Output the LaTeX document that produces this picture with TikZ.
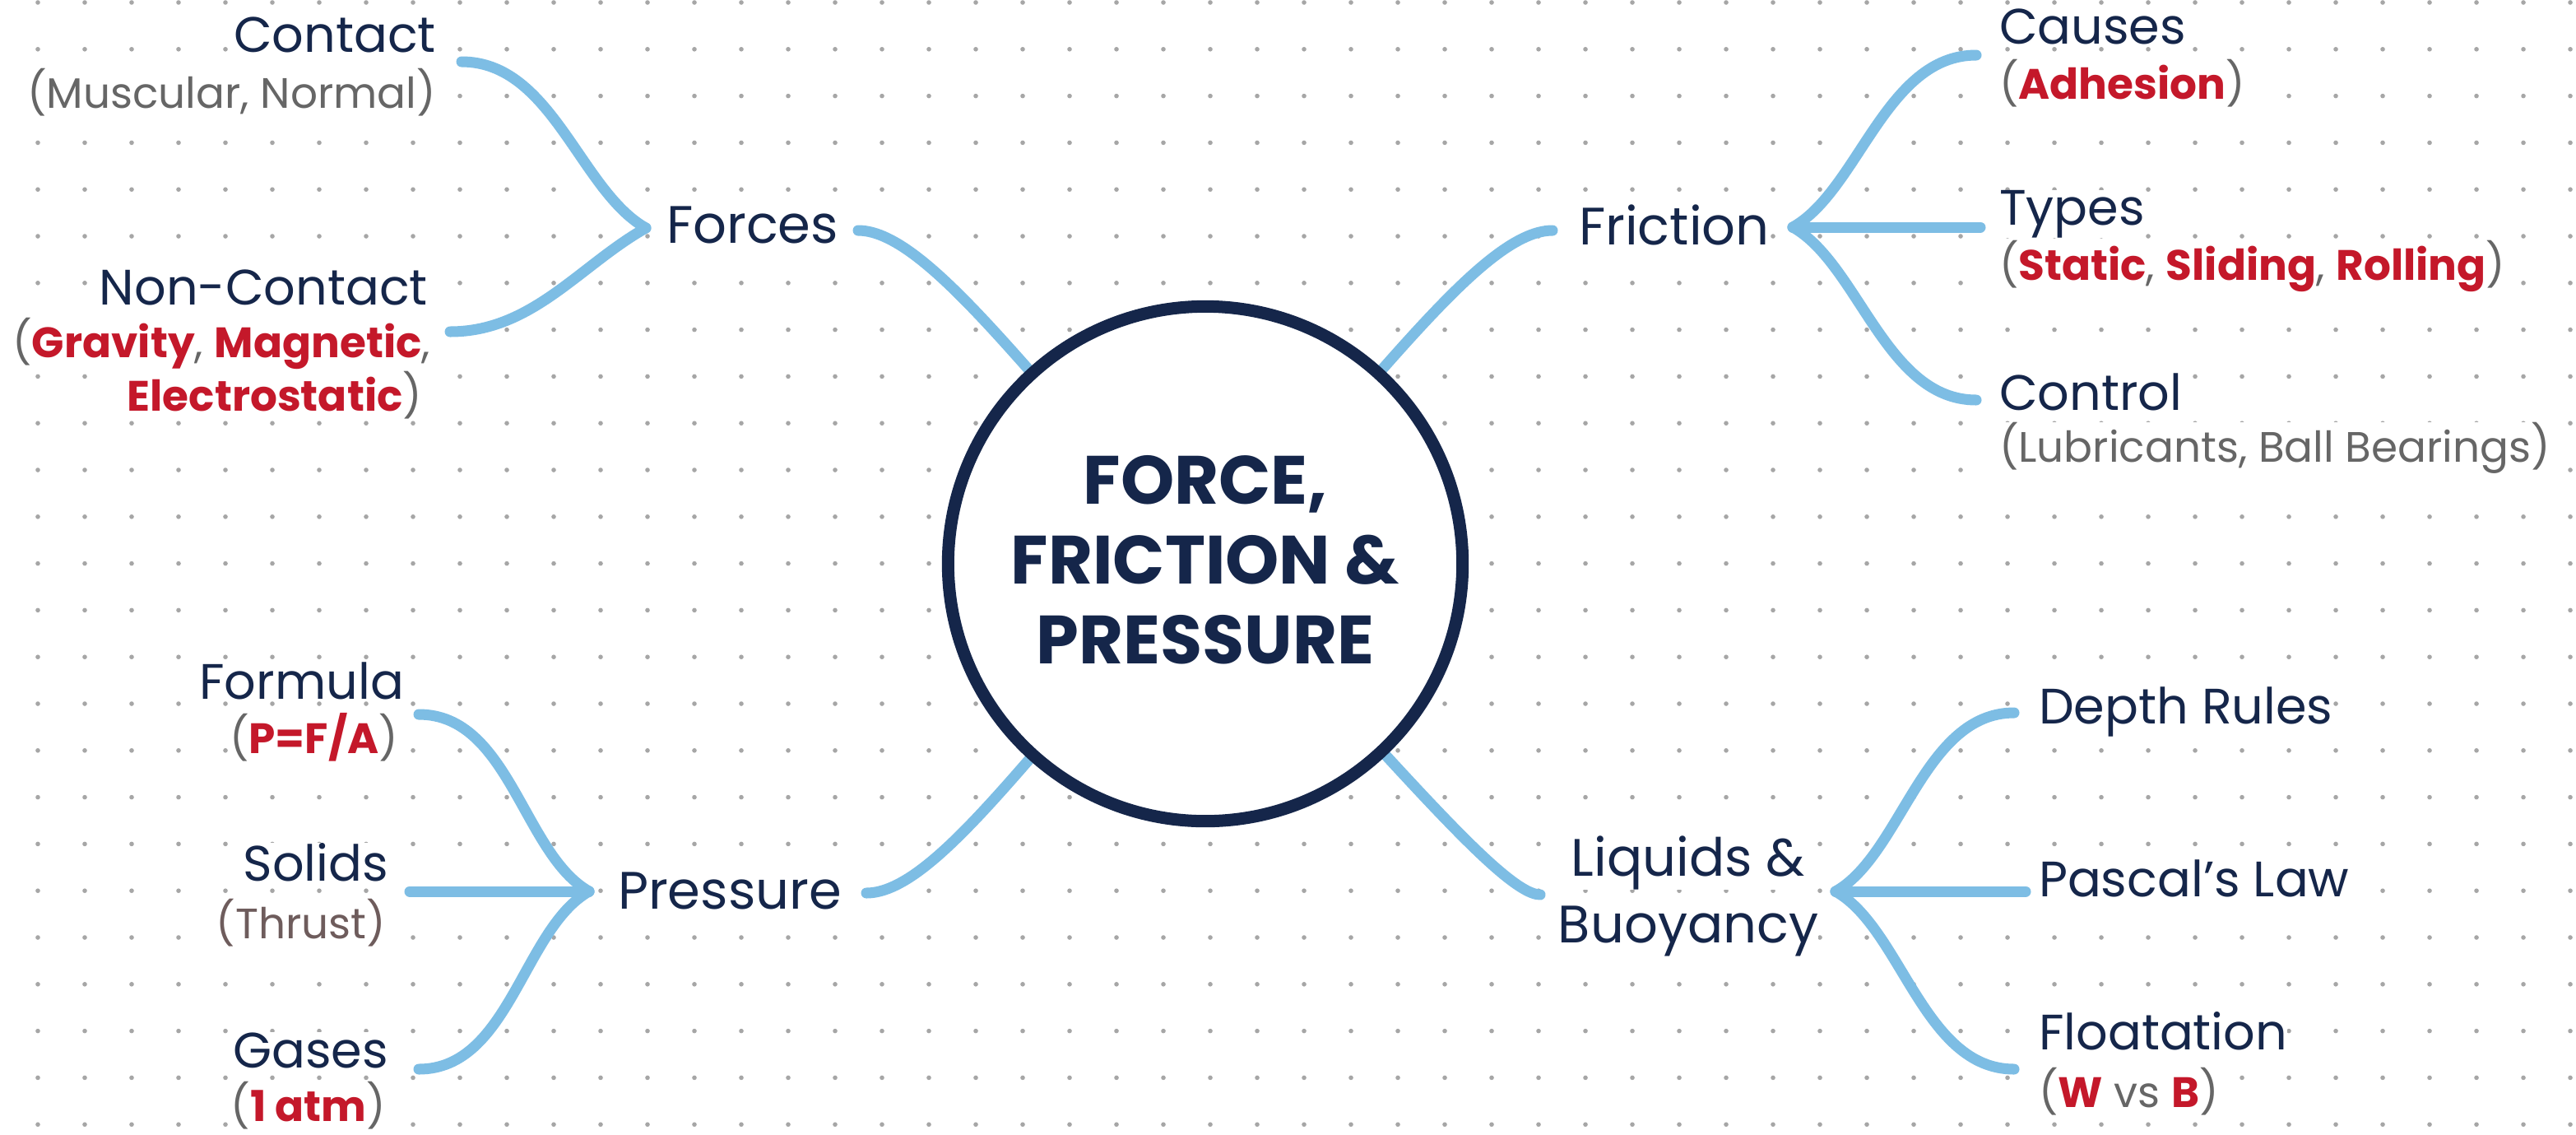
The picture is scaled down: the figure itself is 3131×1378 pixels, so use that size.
\documentclass[tikz,border=0pt]{standalone}
\usepackage{fontspec}
\setmainfont{Poppins}
\definecolor{navy}{HTML}{15264A}
\definecolor{sky}{HTML}{7DBDE4}
\definecolor{dotc}{HTML}{A6A6A6}
\definecolor{redc}{HTML}{C4182A}
\definecolor{grayc}{HTML}{666666}
\definecolor{brownc}{HTML}{6E5C5C}
\newcommand{\hlred}[1]{{\color{redc}\bfseries #1}}
\pgfdeclarelayer{bg}
\pgfsetlayers{bg,main}
\begin{document}
\begin{tikzpicture}[x=0.01cm,y=-0.01cm,
  conn/.style={draw=sky,line width=0.13cm,line cap=round},
  txt/.style={inner sep=0pt,outer sep=0pt,fill=white},
  mainlbl/.style={txt,font=\fontsize{18.2}{22}\selectfont,text=navy},
  leaflbl/.style={txt,font=\fontsize{17.2}{20}\selectfont,text=navy},
  paren/.style={txt,font=\fontsize{14.7}{17}\selectfont,text=grayc},
  hubcircle/.style={circle,draw=navy,line width=0.15cm,fill=white,minimum size=6.25cm,inner sep=0pt},
  titletxt/.style={align=center,font=\fontsize{23.6}{27.6}\selectfont\bfseries,text=navy,inner sep=0pt}]
\useasboundingbox (0,0) rectangle (3131,1378);

% central hub
\node[hubcircle] (core) at (1465,685) {};
\node[titletxt] (title) at (1465,680) {FORCE,\\FRICTION \&\\PRESSURE};

% ---------- Forces ----------
\node[mainlbl,anchor=base west] (forces) at (810,295) {Forces};
\node[leaflbl,anchor=base east] (contact) at (530,63) {Contact};
\node[paren,anchor=base east] (contactp) at (530,131) {(Muscular, Normal)};
\node[leaflbl,anchor=base east] (noncontact) at (520,370) {Non-Contact};
\node[paren,anchor=base east] (noncontactp) at (523,434) {(\hlred{Gravity}, \hlred{Magnetic},};
\node[paren,anchor=base east] (noncontactq) at (513,499) {\hlred{Electrostatic})};

% ---------- Friction ----------
\node[mainlbl,anchor=base west] (friction) at (1919,297) {Friction};
\node[leaflbl,anchor=base west] (causes) at (2430,53) {Causes};
\node[paren,anchor=base west] (causesp) at (2430,120) {(\hlred{Adhesion})};
\node[leaflbl,anchor=base west] (types) at (2430,273) {Types};
\node[paren,anchor=base west] (typesp) at (2430,340) {(\hlred{Static}, \hlred{Sliding}, \hlred{Rolling})};
\node[leaflbl,anchor=base west] (control) at (2430,498) {Control};
\node[paren,anchor=base west] (controlp) at (2430,561) {(Lubricants, Ball Bearings)};

% ---------- Pressure ----------
\node[mainlbl,anchor=base west] (pressure) at (751,1104) {Pressure};
\node[leaflbl,anchor=base east] (formula) at (491,849) {Formula};
\node[paren,anchor=base east] (formulap) at (484,915) {(\hlred{P=F/A})};
\node[leaflbl,anchor=base east] (solids) at (472,1070) {Solids};
\node[paren,anchor=base east,text=brownc] (solidsp) at (469,1140) {(Thrust)};
\node[leaflbl,anchor=base east] (gases) at (472,1297) {Gases};
\node[paren,anchor=base east] (gasesp) at (469,1362) {(\hlred{1 atm})};

% ---------- Liquids & Buoyancy ----------
\node[mainlbl,anchor=base] (liquids) at (2052,1064) {Liquids \&};
\node[mainlbl,anchor=base] (buoyancy) at (2052,1145) {Buoyancy};
\node[leaflbl,anchor=base west] (depth) at (2478,879) {Depth Rules};
\node[leaflbl,anchor=base west] (pascal) at (2478,1089) {Pascal’s Law};
\node[leaflbl,anchor=base west] (floatation) at (2478,1275) {Floatation};
\node[paren,anchor=base west] (floatationp) at (2478,1345) {(\hlred{W} vs \hlred{B})};

% connector end points
\coordinate (cContact) at (561,75);
\coordinate (cNonContact) at (547,403);
\coordinate (jForces) at (785,277);
\coordinate (eForces) at (1043,280);
\coordinate (jFriction) at (2179,276);
\coordinate (cCauses) at (2402,67);
\coordinate (cTypes) at (2407,276);
\coordinate (cControl) at (2402,486);
\coordinate (eFriction) at (1887,280);
\coordinate (jPressure) at (716,1083);
\coordinate (cFormula) at (509,868);
\coordinate (cSolids) at (498,1083);
\coordinate (cGases) at (509,1299);
\coordinate (ePressure) at (1053,1085);
\coordinate (jLiquids) at (2231,1083);
\coordinate (cDepth) at (2448,866);
\coordinate (cPascal) at (2462,1083);
\coordinate (cFloat) at (2448,1299);
\coordinate (eLiquids) at (1872,1087);

\begin{pgfonlayer}{bg}
  \fill[white] (0,0) rectangle (3131,1378);
  \foreach \i in {0,...,54} {
    \foreach \j in {0,...,24} {
      \fill[dotc] (46+57*\i,3+56.8*\j) circle (0.028cm);
    }
  }
  % main connectors
  \draw[conn] (eForces) .. controls +(90,0) and +(-190,-190) .. (core.center);
  \draw[conn] (eFriction) .. controls +(-90,0) and +(190,-190) .. (core.center);
  \draw[conn] (ePressure) .. controls +(90,0) and +(-190,190) .. (core.center);
  \draw[conn] (eLiquids) .. controls +(-50,0) and +(190,190) .. (core.center);
  % Forces branches
  \draw[conn] (cContact) .. controls +(110,0) and +(-80,-45) .. (jForces);
  \draw[conn] (cNonContact) .. controls +(100,0) and +(-80,45) .. (jForces);
  % Friction branches
  \draw[conn] (jFriction) .. controls +(80,-45) and +(-110,0) .. (cCauses);
  \draw[conn] (jFriction) -- (cTypes);
  \draw[conn] (jFriction) .. controls +(80,45) and +(-110,0) .. (cControl);
  % Pressure branches
  \draw[conn] (cFormula) .. controls +(110,0) and +(-80,-45) .. (jPressure);
  \draw[conn] (cSolids) -- (jPressure);
  \draw[conn] (cGases) .. controls +(110,0) and +(-80,45) .. (jPressure);
  % Liquids branches
  \draw[conn] (jLiquids) .. controls +(80,-45) and +(-110,0) .. (cDepth);
  \draw[conn] (jLiquids) -- (cPascal);
  \draw[conn] (jLiquids) .. controls +(80,45) and +(-110,0) .. (cFloat);
\end{pgfonlayer}
\end{tikzpicture}
\end{document}
